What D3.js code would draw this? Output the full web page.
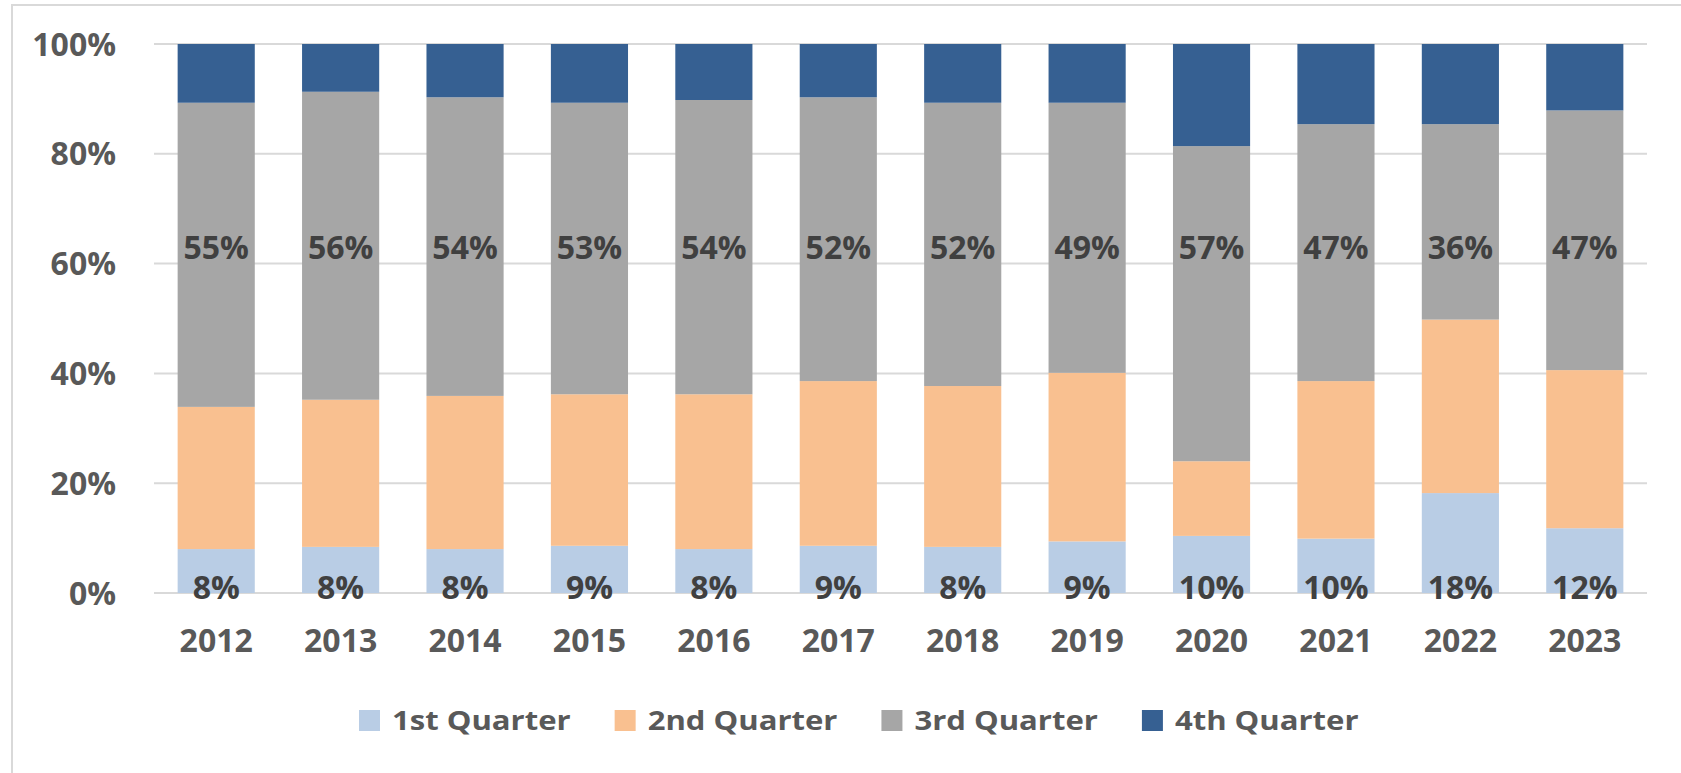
<!DOCTYPE html>
<html>
<head>
<meta charset="utf-8">
<script src="https://cdn.jsdelivr.net/npm/d3@7"></script>
<style>
  body { margin: 0; background: #fff; }
  text { font-family: "Open Sans", "Liberation Sans", sans-serif; font-weight: bold; }
</style>
</head>
<body>
<div id="chart"></div>
<script>
var years = ["2012", "2013", "2014", "2015", "2016", "2017", "2018", "2019", "2020", "2021", "2022", "2023"];
var quarterNames = ["1st Quarter", "2nd Quarter", "3rd Quarter", "4th Quarter"];
// shares in percent
var q1 = [8.0, 8.4, 8.0, 8.6, 8.0, 8.6, 8.4, 9.4, 10.4, 9.9, 18.2, 11.8];
var q2 = [25.9, 26.8, 27.9, 27.6, 28.2, 30.0, 29.3, 30.7, 13.6, 28.7, 31.6, 28.8];
var q3 = [55.4, 56.1, 54.4, 53.1, 53.6, 51.7, 51.6, 49.2, 57.4, 46.8, 35.6, 47.3];
var q4 = [10.7, 8.7, 9.7, 10.7, 10.2, 9.7, 10.7, 10.7, 18.6, 14.6, 14.6, 12.1];
var yTicks = [0, 20, 40, 60, 80, 100];
var colors = ["#b9cde5", "#f9c090", "#a6a6a6", "#366092"];

var W = 1681, H = 773;
var svg = d3.select("#chart").append("svg")
    .attr("width", W)
    .attr("height", H);

// outer chart frame (runs off the right and bottom of the picture)
svg.append("rect")
  .attr("x", 12).attr("y", 5)
  .attr("width", 1720).attr("height", 820)
  .attr("fill", "none")
  .attr("stroke", "#d9d9d9")
  .attr("stroke-width", 2);

var x = d3.scaleBand().domain(years).range([154, 1647])
    .paddingInner(0.38).paddingOuter(0.19);
var y = d3.scaleLinear().domain([0, 100]).range([593, 44]);

// gridlines
svg.append("g").selectAll("line")
    .data(yTicks)
  .enter().append("line")
    .attr("x1", 154).attr("x2", 1647)
    .attr("y1", function(d) { return y(d); })
    .attr("y2", function(d) { return y(d); })
    .attr("stroke", "#d9d9d9")
    .attr("stroke-width", 2);

// y axis labels
svg.append("g").selectAll("text")
    .data(yTicks)
  .enter().append("text")
    .attr("x", 116)
    .attr("y", function(d) { return y(d); })
    .attr("dy", "0.36em")
    .attr("text-anchor", "end")
    .attr("fill", "#595959")
    .style("font-size", "32px")
    .text(function(d) { return d + "%"; });

// stacked rows
var rows = years.map(function(yr, i) {
  return { year: yr, q1: q1[i], q2: q2[i], q3: q3[i], q4: q4[i] };
});
var stack = d3.stack().keys(["q1", "q2", "q3", "q4"]);
var series = stack(rows);

svg.append("g").selectAll("g")
    .data(series)
  .enter().append("g")
    .attr("fill", function(d, i) { return colors[i]; })
  .selectAll("rect")
    .data(function(d) { return d; })
  .enter().append("rect")
    .attr("x", function(d) { return x(d.data.year); })
    .attr("width", x.bandwidth())
    .attr("y", function(d) { return y(d[1]); })
    .attr("height", function(d) { return y(d[0]) - y(d[1]); });

// year labels
svg.append("g").selectAll("text")
    .data(years)
  .enter().append("text")
    .attr("x", function(d) { return x(d) + x.bandwidth() / 2; })
    .attr("y", y(0) + 59)
    .attr("text-anchor", "middle")
    .attr("fill", "#595959")
    .style("font-size", "32px")
    .text(function(d) { return d; });

// data labels: 3rd quarter sits high in the bar, 1st quarter at the base
var q3Level = 63;
svg.append("g").selectAll("text")
    .data(rows)
  .enter().append("text")
    .attr("x", function(d) { return x(d.year) + x.bandwidth() / 2; })
    .attr("y", y(q3Level))
    .attr("dy", "0.36em")
    .attr("text-anchor", "middle")
    .attr("fill", "#404040")
    .style("font-size", "32px")
    .text(function(d) { return Math.round(d.q3) + "%"; });

svg.append("g").selectAll("text")
    .data(rows)
  .enter().append("text")
    .attr("x", function(d) { return x(d.year) + x.bandwidth() / 2; })
    .attr("y", y(0) + 6)
    .attr("text-anchor", "middle")
    .attr("fill", "#404040")
    .style("font-size", "32px")
    .text(function(d) { return Math.round(d.q1) + "%"; });

// legend
var legendX = 359, legendY = 710, swatch = 21;
var legend = svg.append("g");
var cursor = legendX;
quarterNames.forEach(function(name, i) {
  var g = legend.append("g").attr("transform", "translate(" + cursor + "," + legendY + ")");
  g.append("rect")
    .attr("width", swatch).attr("height", swatch)
    .attr("fill", colors[i]);
  var t = g.append("text")
    .attr("x", swatch + 12)
    .attr("y", swatch - 1)
    .attr("fill", "#595959")
    .style("font-size", "27px")
    .text(name);
  var len = t.node().getComputedTextLength() * 1.15;
  t.attr("textLength", len).attr("lengthAdjust", "spacingAndGlyphs");
  cursor += swatch + 12 + len + 44;
});
</script>
</body>
</html>
